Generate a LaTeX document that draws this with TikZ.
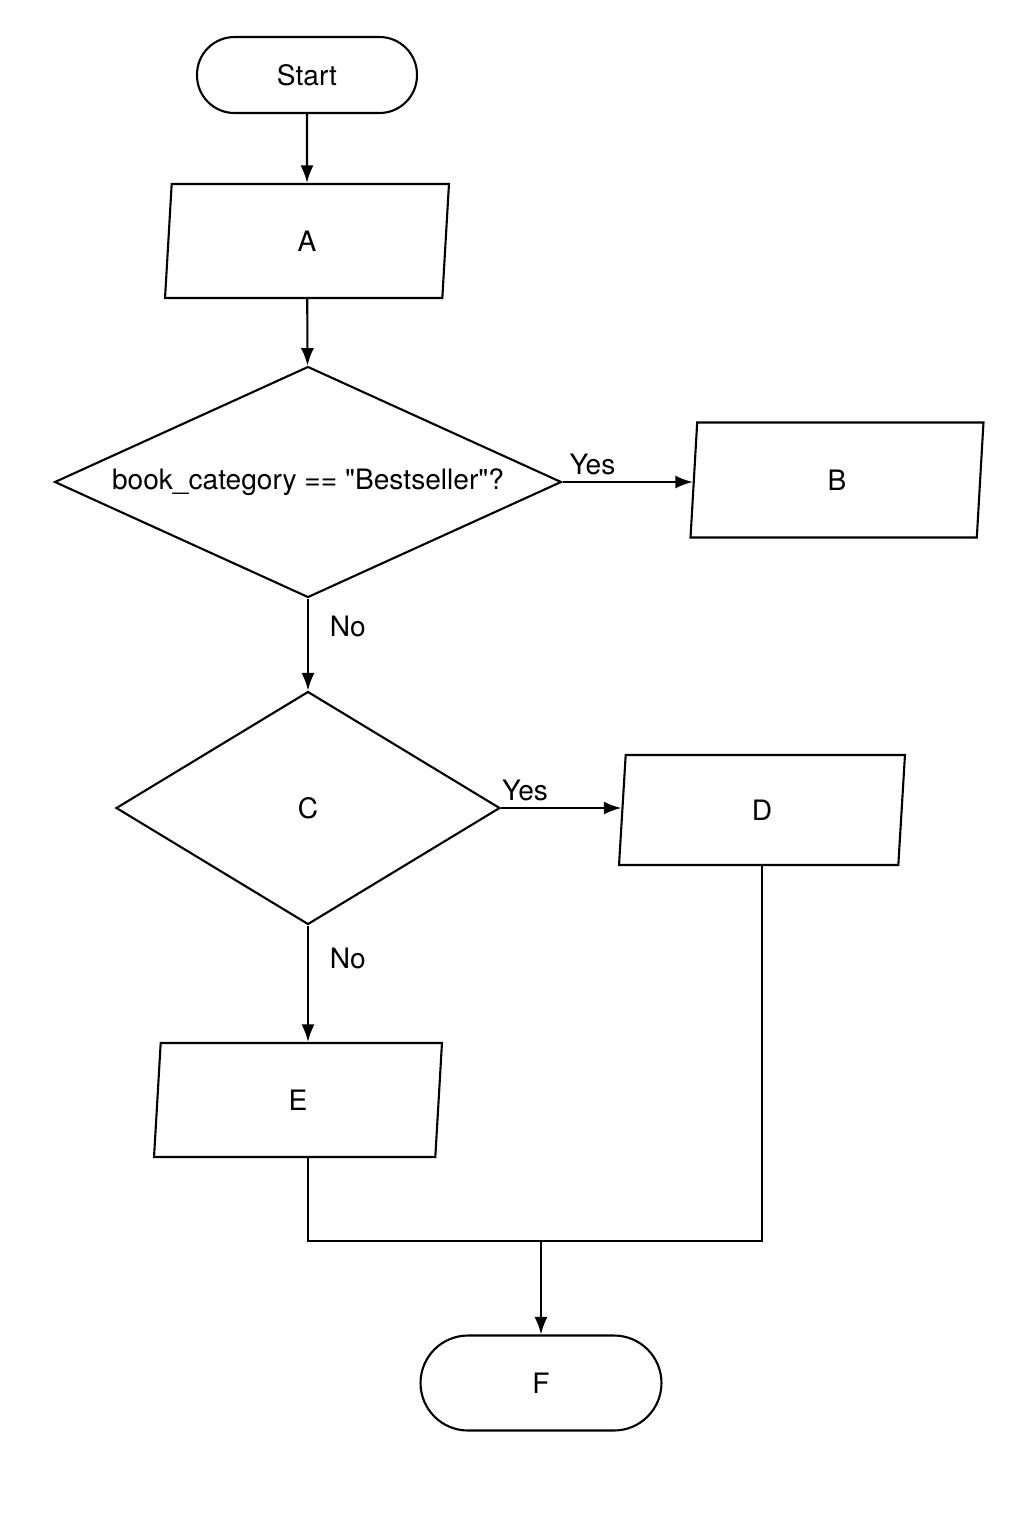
\documentclass[tikz,border=0pt]{standalone}
\usepackage{fontspec}
\setmainfont{TeX Gyre Heros}[Ligatures=TeXOff]
\usetikzlibrary{shapes.geometric}
\usetikzlibrary{arrows.meta}
\tikzset{
	base/.style={draw,line width=1.2pt,font=\fontsize{16}{19}\selectfont,inner sep=0pt},
	term/.style={base,rectangle,rounded corners=0.75cm},
	io/.style={base,trapezium,trapezium left angle=72,trapezium right angle=108,trapezium stretches body=true},
	dec/.style={base,diamond},
	flow/.style={line width=1.2pt,-{Latex[length=3.5mm,width=2.6mm]}},
	lbl/.style={font=\fontsize{16}{19}\selectfont}
}
\begin{document}
\begin{tikzpicture}[x=0.02cm,y=-0.02cm]
\useasboundingbox (0,0) rectangle (1024,1536);
\node (start) [term,minimum width=4.4cm,minimum height=1.52cm] at (307,75) {Start};
\node (A) [io,minimum width=5.68cm,minimum height=2.28cm] at (307,241) {A};
\node (cat) [dec,shape aspect=2.19,minimum width=10.14cm,minimum height=4.62cm] at (308,482) {book\_category == "Bestseller"?};
\node (B) [io,minimum width=5.86cm,minimum height=2.3cm] at (837,480) {B};
\node (C) [dec,shape aspect=1.65,minimum width=7.68cm,minimum height=4.66cm] at (308,808) {C};
\node (D) [io,minimum width=5.72cm,minimum height=2.2cm] at (762,810) {D};
\node (E) [io,minimum width=5.76cm,minimum height=2.28cm] at (298,1100) {E};
\node (F) [term,minimum width=4.82cm,minimum height=1.9cm,rounded corners=0.95cm] at (541,1383) {F};
\coordinate (join) at (541,1241);
% main line
\draw[flow] (start) -- (A);
\draw[flow] (A) -- (cat);
\draw[flow] (cat.east) -- node[lbl,above,pos=0.23] {Yes} (cat.east -| B.west);
\draw[flow] (cat.south) -- node[lbl,right,pos=0.3,xshift=3mm] {No} (C.north);
\draw[flow] (C.east) -- node[lbl,above,pos=0.2] {Yes} (C.east -| D.west);
\draw[flow] (C.south) -- node[lbl,right,pos=0.28,xshift=3mm] {No} (C.south |- E.north);
% merge
\draw[line width=1.2pt] (B.south -| 833,0) -- (B.south -| 833,0 |- D.north);
\draw[line width=1.2pt] (E.south -| 308,0) |- (join) -| (D.south -| 762,0);
\draw[flow] (join) -- (F);
\end{tikzpicture}
\end{document}
